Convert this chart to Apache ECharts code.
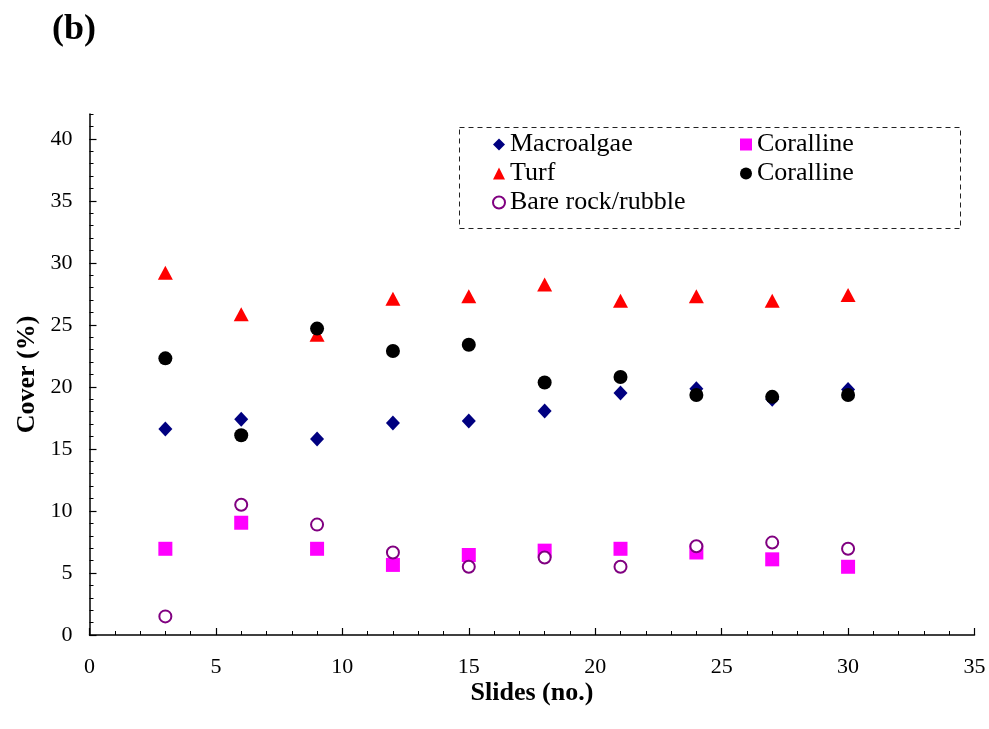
<!DOCTYPE html>
<html>
<head>
<meta charset="utf-8">
<script src="https://cdn.jsdelivr.net/npm/echarts@6/dist/echarts.min.js"></script>
<style>html,body{margin:0;padding:0;background:#fff}#c{width:989px;height:729px}</style>
</head>
<body>
<div id="c"></div>
<script>
const slides = [3, 6, 9, 12, 15, 18, 21, 24, 27, 30];
const macroalgae = [16.6, 17.4, 15.8, 17.1, 17.25, 18.05, 19.5, 19.85, 19.0, 19.8];
const corallinePink = [6.95, 9.05, 6.95, 5.65, 6.45, 6.8, 6.95, 6.65, 6.1, 5.5];
const turf = [29.2, 25.85, 24.2, 27.1, 27.3, 28.25, 26.95, 27.3, 26.95, 27.4];
const corallineBlack = [22.3, 16.1, 24.7, 22.9, 23.4, 20.35, 20.8, 19.35, 19.2, 19.35];
const bareRock = [1.5, 10.5, 8.9, 6.65, 5.5, 6.25, 5.5, 7.15, 7.45, 6.95];
const yTicks = [0, 5, 10, 15, 20, 25, 30, 35, 40];
const xTicks = [0, 5, 10, 15, 20, 25, 30, 35];

const FONT = 'Liberation Serif';
const pairs = arr => slides.map((x, i) => [x, arr[i]]);

const chart = echarts.init(document.getElementById('c'));
chart.setOption({
  animation: false,
  backgroundColor: '#fff',
  title: {
    text: '(b)', left: 52, top: 12, padding: 0,
    textStyle: { fontFamily: FONT, fontWeight: 'bold', fontSize: 36, color: '#000' }
  },
  grid: [
    { left: 89.5, right: 14.5, top: 114, bottom: 94 },
    { left: 89.5, right: 14.5, top: 139, bottom: 94 }
  ],
  xAxis: [
    {
      gridIndex: 0, type: 'value', min: xTicks[0], max: xTicks[xTicks.length - 1], interval: 5,
      name: 'Slides (no.)', nameLocation: 'middle', nameGap: 45, nameMoveOverlap: false,
      nameTextStyle: { fontFamily: FONT, fontWeight: 'bold', fontSize: 26, color: '#000' },
      axisLine: { lineStyle: { color: '#000', width: 1.5 } },
      axisTick: { inside: true, length: 7, lineStyle: { color: '#000', width: 1.2 } },
      minorTick: { show: true, splitNumber: 5, length: 4, lineStyle: { color: '#000', width: 1 } },
      axisLabel: { margin: 21, fontFamily: FONT, fontSize: 22, color: '#000' },
      splitLine: { show: false }
    },
    {
      gridIndex: 1, type: 'value', min: 0, max: 35, show: false
    }
  ],
  yAxis: [
    {
      gridIndex: 0, type: 'value', min: 0, max: 42, interval: 1,
      name: 'Cover (%)', nameLocation: 'middle', nameGap: 49, nameMoveOverlap: false,
      nameTextStyle: { fontFamily: FONT, fontWeight: 'bold', fontSize: 26, color: '#000' },
      axisLine: { lineStyle: { color: '#000', width: 1.5 } },
      axisTick: { inside: true, length: 4, lineStyle: { color: '#000', width: 1 } },
      axisLabel: { show: false },
      splitLine: { show: false }
    },
    {
      gridIndex: 1, type: 'value', min: yTicks[0], max: yTicks[yTicks.length - 1], interval: 5,
      axisLine: { show: false },
      axisTick: { inside: true, length: 7, lineStyle: { color: '#000', width: 1.2 } },
      axisLabel: { margin: 17, fontFamily: FONT, fontSize: 22, color: '#000' },
      splitLine: { show: false }
    }
  ],
  legend: [
    {
      data: ['Macroalgae', 'Turf', 'Bare rock/rubble'],
      orient: 'vertical', left: 492, top: 130, padding: 0, itemGap: 0,
      itemWidth: 12, itemHeight: 12,
      textStyle: { fontFamily: FONT, fontSize: 26, color: '#000', lineHeight: 29 }
    },
    {
      data: ['Coralline', 'Coralline '],
      orient: 'vertical', left: 740, top: 130, padding: 0, itemGap: 0,
      itemWidth: 12, itemHeight: 12,
      formatter: n => n.trim(),
      textStyle: { fontFamily: FONT, fontSize: 26, color: '#000', lineHeight: 29 }
    }
  ],
  graphic: [
    {
      type: 'rect', left: 457, top: 125, z: 1,
      shape: { width: 501, height: 101 },
      style: { fill: 'none', stroke: '#222', lineWidth: 1, lineDash: [5, 4] }
    }
  ],
  series: [
    {
      name: 'Macroalgae', type: 'scatter', xAxisIndex: 0, yAxisIndex: 0,
      symbol: 'diamond', symbolSize: [14, 15],
      itemStyle: { color: '#000080', opacity: 1 },
      data: pairs(macroalgae)
    },
    {
      name: 'Coralline', type: 'scatter', xAxisIndex: 0, yAxisIndex: 0,
      symbol: 'rect', symbolSize: 14,
      itemStyle: { color: '#FF00FF', opacity: 1 },
      data: pairs(corallinePink)
    },
    {
      name: 'Turf', type: 'scatter', xAxisIndex: 0, yAxisIndex: 0,
      symbol: 'triangle', symbolSize: [15, 14],
      itemStyle: { color: '#FF0000', opacity: 1 },
      data: pairs(turf)
    },
    {
      name: 'Coralline ', type: 'scatter', xAxisIndex: 0, yAxisIndex: 0,
      symbol: 'circle', symbolSize: 14,
      itemStyle: { color: '#000000', opacity: 1 },
      data: pairs(corallineBlack)
    },
    {
      name: 'Bare rock/rubble', type: 'scatter', xAxisIndex: 0, yAxisIndex: 0,
      symbol: 'emptyCircle', symbolSize: 12,
      itemStyle: { color: '#800080', borderColor: '#800080', borderWidth: 2, opacity: 1 },
      data: pairs(bareRock)
    }
  ]
});
</script>
</body>
</html>
